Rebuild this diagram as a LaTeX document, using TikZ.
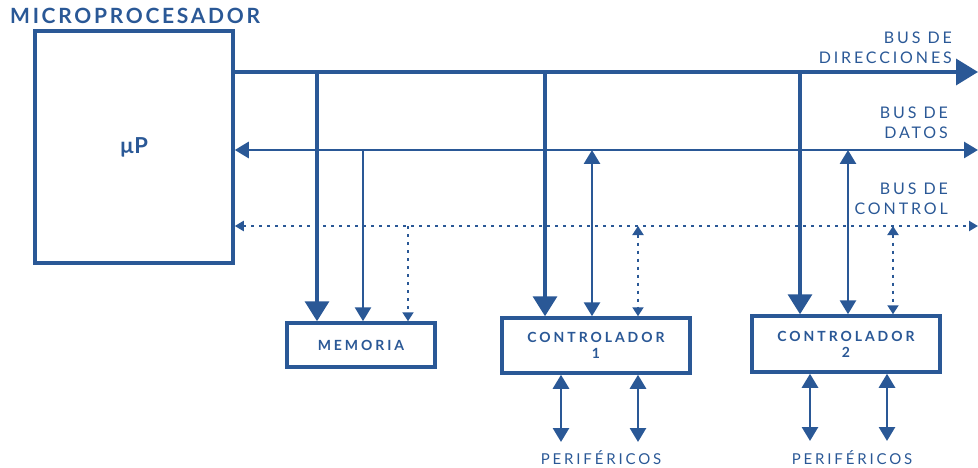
\documentclass[tikz,border=0pt]{standalone}
\usepackage{fontspec}
\setmainfont{Lato}
\usetikzlibrary{arrows.meta}
\definecolor{bl}{RGB}{42,88,150}
\tikzset{
  box/.style={draw=bl, line width=3.5pt, fill=white, text=bl, font=\bfseries\fontsize{14}{16}\selectfont\addfontfeatures{LetterSpace=21}, align=center, inner sep=0pt},
  abus/.style={draw=bl, line width=3.5pt},
  dbus/.style={draw=bl, line width=2.8pt},
  cbus/.style={draw=bl, line width=2pt, dash pattern=on 3pt off 5pt},
  bigtip/.style={-{Triangle[width=24pt,length=20pt]}},
  midtip/.style={{Triangle[width=16pt,length=14pt]}-{Triangle[width=16pt,length=14pt]}},
  buslbl/.style={text=bl, font=\fontsize{16}{20}\selectfont\addfontfeatures{LetterSpace=18}, align=right, anchor=east, inner sep=0pt},
  perlbl/.style={text=bl, font=\fontsize{15}{18}\selectfont\addfontfeatures{LetterSpace=19}, inner sep=0pt},
}
\begin{document}
\begin{tikzpicture}[x=1pt,y=-1pt]
\useasboundingbox (0,0) rectangle (978,468);

\node[text=bl, font=\bfseries\fontsize{21}{24}\selectfont\addfontfeatures{LetterSpace=13}, anchor=west, inner sep=0pt] (title) at (10,16) {MICROPROCESADOR};
\node[box, minimum width=198pt, minimum height=232pt, font=\bfseries\fontsize{22}{26}\selectfont] (up) at (134,147) {µP};
\node[box, minimum width=148pt, minimum height=44pt] (mem) at (361,345) {MEMORIA};
\node[box, minimum width=188pt, minimum height=55pt] (c1) at (596,345.5) {CONTROLADOR\\1};
\node[box, minimum width=188pt, minimum height=56pt] (c2) at (846,344) {CONTROLADOR\\2};

\coordinate (ae) at (978,72);
\coordinate (de) at (978,150);
\coordinate (ce) at (978,226);

% buses
\draw[abus, -{Triangle[width=26pt,length=22pt]}] (up.east |- ae) -- (ae);
\draw[dbus, midtip] (up.east |- de) -- (de);
\draw[cbus, {Triangle[width=10pt,length=9pt]}-{Triangle[width=10pt,length=9pt]}] (up.east |- ce) -- (ce);

% address drops
\coordinate (a1) at (317,72);
\coordinate (a2) at (545,72);
\coordinate (a3) at (800,72);
\draw[abus, bigtip] (a1) -- (a1 |- mem.north);
\draw[abus, bigtip] (a2) -- (a2 |- c1.north);
\draw[abus, bigtip] (a3) -- (a3 |- c2.north);

% data drops
\coordinate (d1) at (363,150);
\coordinate (d2) at (592,150);
\coordinate (d3) at (848,150);
\draw[dbus, -{Triangle[width=16pt,length=14pt]}] (d1) -- (d1 |- mem.north);
\draw[dbus, midtip] (d2) -- (d2 |- c1.north);
\draw[dbus, midtip] (d3) -- (d3 |- c2.north);

% control drops
\coordinate (k1) at (408,226);
\coordinate (k2) at (638,226);
\coordinate (k3) at (893,226);
\draw[cbus, -{Triangle[width=11pt,length=9pt]}] (k1) -- (k1 |- mem.north);
\draw[cbus, {Triangle[width=11pt,length=9pt]}-{Triangle[width=11pt,length=9pt]}] (k2) -- (k2 |- c1.north);
\draw[cbus, {Triangle[width=11pt,length=9pt]}-{Triangle[width=11pt,length=9pt]}] (k3) -- (k3 |- c2.north);

% peripherals
\coordinate (p1) at (561,442);
\coordinate (p2) at (638,442);
\coordinate (p3) at (810,441);
\coordinate (p4) at (887,441);
\draw[dbus, midtip] (c1.south -| p1) -- (p1);
\draw[dbus, midtip] (c1.south -| p2) -- (p2);
\draw[dbus, midtip] (c2.south -| p3) -- (p3);
\draw[dbus, midtip] (c2.south -| p4) -- (p4);

\node[perlbl] (per1) at (601,458) {PERIFÉRICOS};
\node[perlbl] (per2) at (852,458) {PERIFÉRICOS};

\node[buslbl] (lbla) at (952,48) {BUS DE\\DIRECCIONES};
\node[buslbl] (lbld) at (948,123) {BUS DE\\DATOS};
\node[buslbl] (lblc) at (948,199) {BUS DE\\CONTROL};
\end{tikzpicture}
\end{document}
